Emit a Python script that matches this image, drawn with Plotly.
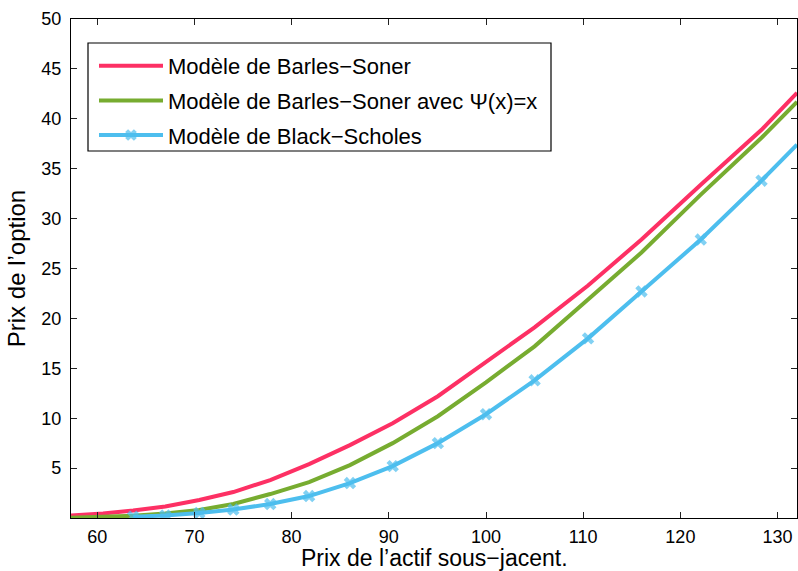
import plotly.graph_objects as go

# Underlying asset price grid
s_grid = [57.3, 60.6, 63.7, 67.0, 70.5, 74.0, 77.8, 81.8, 86.0, 90.4, 95.05,
          100.0, 105.0, 110.5, 116.0, 122.1, 128.35, 132.0]

barles_soner = [0.25, 0.45, 0.75, 1.15, 1.8, 2.6, 3.8, 5.4, 7.3, 9.5, 12.2,
                15.6, 19.1, 23.3, 27.9, 33.4, 38.9, 42.6]

barles_soner_psi = [0.02, 0.08, 0.22, 0.45, 0.8, 1.4, 2.4, 3.6, 5.3, 7.5, 10.2,
                    13.6, 17.2, 21.9, 26.6, 32.4, 38.1, 41.7]

s_bs = [63.7, 67.0, 70.5, 74.0, 77.8, 81.8, 86.0, 90.4, 95.05,
        100.0, 105.0, 110.5, 116.0, 122.1, 128.35, 132.0]
black_scholes = [0.13, 0.25, 0.5, 0.85, 1.4, 2.2, 3.5, 5.2, 7.5,
                 10.4, 13.8, 18.0, 22.7, 27.9, 33.8, 37.4]
bs_marker_idx = list(range(15))  # last point is the clipped end, no marker

x_ticks = [60, 70, 80, 90, 100, 110, 120, 130]
y_ticks = [5, 10, 15, 20, 25, 30, 35, 40, 45, 50]

x_title = "Prix de l’actif sous−jacent."
y_title = "Prix de l’option"
names = ["Modèle de Barles−Soner",
         "Modèle de Barles−Soner avec Ψ(x)=x",
         "Modèle de Black−Scholes"]
colors = ["#FD3064", "#77AC30", "#4DBEEE"]

FONT = "Liberation Sans, Arial, Helvetica, sans-serif"

fig = go.Figure()
fig.add_trace(go.Scatter(x=s_grid, y=barles_soner, mode="lines", name=names[0],
                         legendgroup="a",
                         line=dict(color=colors[0], width=4)))
fig.add_trace(go.Scatter(x=s_grid, y=barles_soner_psi, mode="lines", name=names[1],
                         legendgroup="b",
                         line=dict(color=colors[1], width=4)))
marker_sizes = [11 if i in bs_marker_idx else 0 for i in range(len(s_bs))]
fig.add_trace(go.Scatter(x=s_bs, y=black_scholes, mode="lines+markers", name=names[2],
                         legendgroup="c",
                         line=dict(color=colors[2], width=4),
                         marker=dict(symbol="x", size=marker_sizes, color=colors[2],
                                     line=dict(width=0))))

axis_common = dict(showline=True, linecolor="black", linewidth=1.3, mirror="ticks",
                   ticks="inside", ticklen=6, tickcolor="#222", tickwidth=1,
                   showgrid=False, zeroline=False,
                   tickfont=dict(family=FONT, size=18, color="black"))

fig.update_xaxes(range=[57.3, 132], tickvals=x_ticks, ticklabelstandoff=2,
                 **axis_common)
fig.update_yaxes(range=[0, 50], tickvals=y_ticks, ticklabelstandoff=5,
                 title=dict(text=y_title, standoff=8,
                            font=dict(family=FONT, size=24, color="black")),
                 **axis_common)

# x-axis title placed as an annotation (pixel-matched position)
fig.add_annotation(text=x_title, xref="paper", yref="paper",
                   x=0.5, y=(518 - 557.5) / 499, xanchor="center", yanchor="middle",
                   showarrow=False, font=dict(family=FONT, size=23, color="black"))

# legend frame drawn as a rectangle so the entries can sit with MATLAB-like padding
fig.add_shape(type="rect", xref="paper", yref="paper",
              x0=(88 - 71) / 726, x1=(551 - 71) / 726,
              y0=(518 - 151) / 499, y1=(518 - 43) / 499,
              line=dict(color="black", width=1.2), fillcolor="white", layer="above")

fig.update_layout(
    width=798, height=571,
    margin=dict(l=71, r=1, t=19, b=53, autoexpand=False),
    paper_bgcolor="white", plot_bgcolor="white",
    font=dict(family=FONT, color="black"),
    showlegend=True,
    legend=dict(x=(94 - 71) / 726, y=(518 - 45) / 499, xanchor="left", yanchor="top",
                bgcolor="rgba(0,0,0,0)", borderwidth=0,
                font=dict(family=FONT, size=22, color="black"),
                itemwidth=64, tracegroupgap=3),
)

fig.write_html("out.html", config={"displayModeBar": False},
               post_script="document.body.style.margin='0';document.body.style.padding='0';")
